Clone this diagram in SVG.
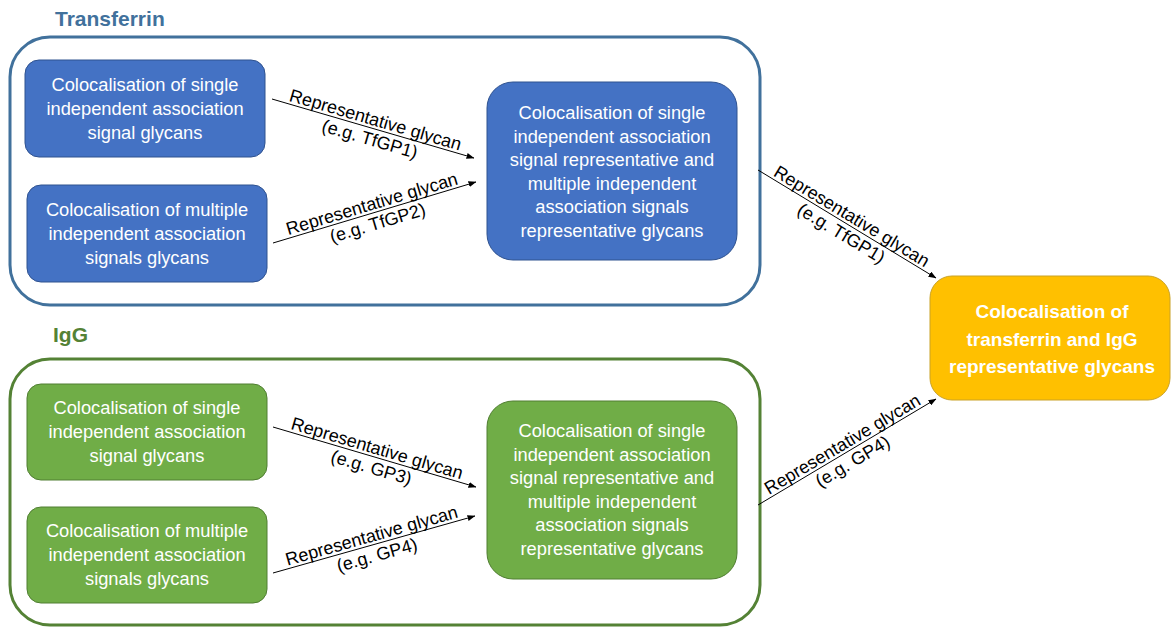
<svg xmlns="http://www.w3.org/2000/svg" width="1172" height="628" viewBox="0 0 1172 628">
<style>
.title{font-family:"Liberation Sans",Arial,sans-serif;font-weight:bold;font-size:21px}
.cont{fill:none;stroke-width:3}
.bnode{fill:#4472C4;stroke:#2F528F;stroke-width:1}
.gnode{fill:#70AD47;stroke:#507E32;stroke-width:1}
.ynode{fill:#FFC000;stroke:#C9A227;stroke-width:1}
.nt{font-family:"Liberation Sans",Arial,sans-serif;font-size:18.3px;fill:#fff;text-anchor:middle}
.yt{font-family:"Liberation Sans",Arial,sans-serif;font-size:19px;font-weight:bold;fill:#fff;text-anchor:middle}
.edge{stroke:#000;stroke-width:1;fill:none;marker-end:url(#ah)}
.lbl{font-family:"Liberation Sans",Arial,sans-serif;font-size:18px;fill:#000;text-anchor:middle}
</style>
<defs>
<marker id="ah" markerWidth="8" markerHeight="6" refX="7.5" refY="3" orient="auto" markerUnits="userSpaceOnUse">
<path d="M0,0 L8,3 L0,6 Z" fill="#000"/>
</marker>
</defs>
<rect width="1172" height="628" fill="#fff"/>

<g id="transferrin-group">
<text class="title" x="55" y="26" fill="#41719C">Transferrin</text>
<rect class="cont" x="10" y="37" width="750" height="268" rx="40" stroke="#41719C"/>
</g>
<g id="igg-group">
<text class="title" x="53" y="342" fill="#548235">IgG</text>
<rect class="cont" x="10" y="359" width="750" height="266" rx="40" stroke="#548235"/>
</g>

<g id="tf-single">
<rect class="bnode" x="25" y="60" width="240" height="97" rx="14"/>
<text class="nt"><tspan x="145" y="91">Colocalisation of single</tspan><tspan x="145" y="115">independent association</tspan><tspan x="145" y="139">signal glycans</tspan></text>
</g>
<g id="tf-multiple">
<rect class="bnode" x="27" y="185" width="240" height="97" rx="14"/>
<text class="nt"><tspan x="147" y="216">Colocalisation of multiple</tspan><tspan x="147" y="240">independent association</tspan><tspan x="147" y="264">signals glycans</tspan></text>
</g>
<g id="tf-combined">
<rect class="bnode" x="487" y="82" width="250" height="178" rx="26"/>
<text class="nt"><tspan x="612" y="119">Colocalisation of single</tspan><tspan x="612" y="143">independent association</tspan><tspan x="612" y="166">signal representative and</tspan><tspan x="612" y="190">multiple independent</tspan><tspan x="612" y="213">association signals</tspan><tspan x="612" y="237">representative glycans</tspan></text>
</g>

<g id="igg-single">
<rect class="gnode" x="27" y="384" width="240" height="96" rx="14"/>
<text class="nt"><tspan x="147" y="414">Colocalisation of single</tspan><tspan x="147" y="438">independent association</tspan><tspan x="147" y="462">signal glycans</tspan></text>
</g>
<g id="igg-multiple">
<rect class="gnode" x="27" y="507" width="240" height="96" rx="14"/>
<text class="nt"><tspan x="147" y="537">Colocalisation of multiple</tspan><tspan x="147" y="561">independent association</tspan><tspan x="147" y="585">signals glycans</tspan></text>
</g>
<g id="igg-combined">
<rect class="gnode" x="487" y="401" width="250" height="178" rx="26"/>
<text class="nt"><tspan x="612" y="437">Colocalisation of single</tspan><tspan x="612" y="461">independent association</tspan><tspan x="612" y="484">signal representative and</tspan><tspan x="612" y="508">multiple independent</tspan><tspan x="612" y="531">association signals</tspan><tspan x="612" y="555">representative glycans</tspan></text>
</g>

<g id="final">
<rect class="ynode" x="930" y="276" width="240" height="124" rx="22"/>
<text class="yt"><tspan x="1052" y="318">Colocalisation of</tspan><tspan x="1052" y="346">transferrin and IgG</tspan><tspan x="1052" y="373">representative glycans</tspan></text>
</g>

<g id="connectors">
<line class="edge" x1="272" y1="99" x2="474" y2="158"/>
<line class="edge" x1="273" y1="243" x2="476" y2="182"/>
<line class="edge" x1="758" y1="170" x2="936" y2="278"/>
<line class="edge" x1="758" y1="505" x2="936" y2="399"/>
<line class="edge" x1="273" y1="427" x2="476" y2="487"/>
<line class="edge" x1="273" y1="573" x2="475" y2="516"/>

<text class="lbl" transform="translate(373,128.5) rotate(16.3)"><tspan x="0" y="-3">Representative glycan</tspan><tspan x="0" y="17">(e.g. TfGP1)</tspan></text>
<text class="lbl" transform="translate(374.5,212.5) rotate(-16.7)"><tspan x="0" y="-3">Representative glycan</tspan><tspan x="0" y="17">(e.g. TfGP2)</tspan></text>
<text class="lbl" transform="translate(847,224) rotate(31.2)"><tspan x="0" y="-3">Representative glycan</tspan><tspan x="0" y="17">(e.g. TfGP1)</tspan></text>
<text class="lbl" transform="translate(847,452) rotate(-30.8)"><tspan x="0" y="-3">Representative glycan</tspan><tspan x="0" y="17">(e.g. GP4)</tspan></text>
<text class="lbl" transform="translate(374.5,457) rotate(16.5)"><tspan x="0" y="-3">Representative glycan</tspan><tspan x="0" y="17">(e.g. GP3)</tspan></text>
<text class="lbl" transform="translate(374,544.5) rotate(-15.8)"><tspan x="0" y="-3">Representative glycan</tspan><tspan x="0" y="17">(e.g. GP4)</tspan></text>
</g>
</svg>
